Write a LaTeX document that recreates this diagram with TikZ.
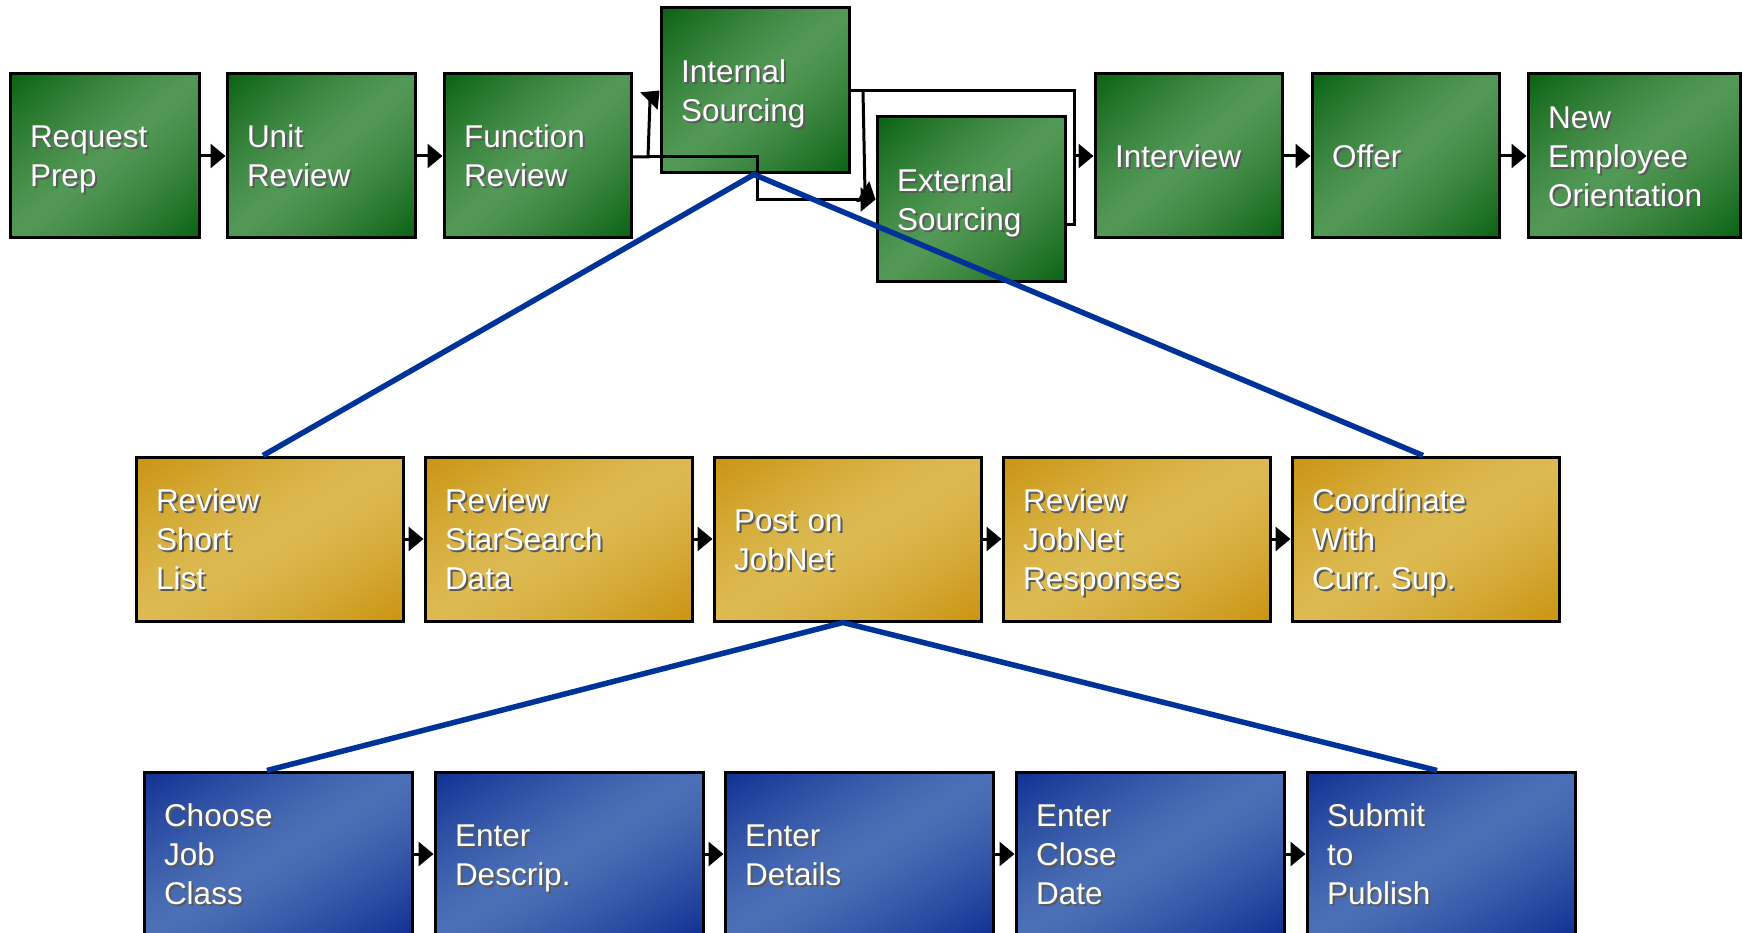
\documentclass[tikz,border=0pt]{standalone}
\usepackage{fontspec}
\setmainfont{Liberation Sans}
\usetikzlibrary{arrows.meta,calc}

\definecolor{zoomblue}{RGB}{0,51,153}

% diagonal fills: light along the rising diagonal, darkening toward the
% top-left and bottom-right corners (input x y, output r g b)
\pgfdeclarefunctionalshading{grnfill}{\pgfpointorigin}{\pgfpoint{100bp}{100bp}}{}{
  sub 50 div abs 1.3 exp
  dup dup
  -0.283 mul 0.322 add
  3 1 roll
  -0.212 mul 0.596 add
  exch
  -0.266 mul 0.337 add
}
\pgfdeclarefunctionalshading{gldfill}{\pgfpointorigin}{\pgfpoint{100bp}{100bp}}{}{
  sub 50 div abs 1.3 exp
  dup dup
  -0.071 mul 0.863 add
  3 1 roll
  -0.149 mul 0.729 add
  exch
  -0.259 mul 0.322 add
}
\pgfdeclarefunctionalshading{blufill}{\pgfpointorigin}{\pgfpoint{100bp}{100bp}}{}{
  sub 50 div abs 1.3 exp
  dup dup
  -0.235 mul 0.298 add
  3 1 roll
  -0.251 mul 0.439 add
  exch
  -0.141 mul 0.714 add
}

% line strut: 31pt above and 8pt below the baseline
\newcommand\ls{\rule[-8pt]{0pt}{39pt}}

% #1 name, #2 x, #3 y (centre), #4 width, #5 height, #6 style, #7 text
\newcommand\procbox[7]{%
  \pgfmathsetmacro\boxtw{#4-40}%
  \node[#6, minimum width=#4pt, minimum height=#5pt] (#1) at (#2,#3) {};
  \node[boxtext, text width=\boxtw pt, text=black!65] at ([shift={(2,2)}]#1.center) {#7};
  \node[boxtext, text width=\boxtw pt, text=white] at (#1.center) {#7};
}

\tikzset{
  procstep/.style={draw=black, line width=3pt, inner sep=0pt},
  greenbox/.style={procstep, shading=grnfill},
  goldbox/.style={procstep, shading=gldfill},
  bluebox/.style={procstep, shading=blufill},
  boxtext/.style={inner sep=0pt, align=left, font=\fontsize{31.5}{39}\selectfont},
  conn/.style={draw=black, line width=3pt, -{Triangle[length=15pt,width=24pt]}},
  plainconn/.style={draw=black, line width=3pt},
  zoomline/.style={draw=zoomblue, line width=5.5pt, line join=round},
}

\begin{document}
\begin{tikzpicture}[x=1pt, y=-1pt]
\useasboundingbox (0,0) rectangle (1743,933);
\clip (0,0) rectangle (1743,933);

% top level process
\procbox{rp}{104.5}{156}{189}{164}{greenbox}{\ls Request\\\ls Prep}
\procbox{ur}{321}{156}{188}{164}{greenbox}{\ls Unit\\\ls Review}
\procbox{fr}{537.5}{156}{187}{164}{greenbox}{\ls Function\\\ls Review}
\procbox{is}{755}{90.5}{188}{165}{greenbox}{\ls Internal\\\ls Sourcing}
\procbox{es}{971}{199.5}{188}{165}{greenbox}{\ls External\\\ls Sourcing}
\procbox{iv}{1188.5}{156}{187}{164}{greenbox}{\ls Interview}
\procbox{of}{1405.5}{156}{187}{164}{greenbox}{\ls Offer}
\procbox{ne}{1634}{156}{212}{164}{greenbox}{\ls New\\\ls Employee\\\ls Orientation}

% internal sourcing detail
\procbox{g1}{269.5}{539}{267}{164}{goldbox}{\ls Review\\\ls Short\\\ls List}
\procbox{g2}{558.5}{539}{267}{164}{goldbox}{\ls Review\\\ls StarSearch\\\ls Data}
\procbox{g3}{847.5}{539}{267}{164}{goldbox}{\ls Post on\\\ls JobNet}
\procbox{g4}{1136.5}{539}{267}{164}{goldbox}{\ls Review\\\ls JobNet\\\ls Responses}
\procbox{g5}{1425.5}{539}{267}{164}{goldbox}{\ls Coordinate\\\ls With\\\ls Curr.\ Sup.}

% JobNet posting detail
\procbox{b1}{278}{854}{268}{164}{bluebox}{\ls Choose\\\ls Job\\\ls Class}
\procbox{b2}{569}{854}{268}{164}{bluebox}{\ls Enter\\\ls Descrip.}
\procbox{b3}{859}{854}{268}{164}{bluebox}{\ls Enter\\\ls Details}
\procbox{b4}{1150}{854}{268}{164}{bluebox}{\ls Enter\\\ls Close\\\ls Date}
\procbox{b5}{1441}{854}{268}{164}{bluebox}{\ls Submit\\\ls to\\\ls Publish}

% top level flow
\draw[conn] (rp) -- (ur);
\draw[conn] (ur) -- (fr);
\coordinate (fj) at (648,157);
\coordinate (ij) at (863,90.5);
\coordinate (vj) at (1074,156);
\draw[conn] (fr.east |- fj) -- (fj) -- (650,100) -- (is.west);
\draw[conn] (fj) -- (757,157) -- (757,199.5) -- (es.west);
\draw[plainconn] (is.east) -- (ij) -- (1074,90.5) -- (vj);
\draw[conn] (ij) -- (865,193) -- (es.west);
\draw[plainconn] ($(es.east)+(0,25.5)$) -- (1074,225) -- (vj);
\draw[conn] (vj) -- (iv.west);
\draw[conn] (iv) -- (of);
\draw[conn] (of) -- (ne);

% second level flow
\draw[conn] (g1) -- (g2);
\draw[conn] (g2) -- (g3);
\draw[conn] (g3) -- (g4);
\draw[conn] (g4) -- (g5);

% third level flow
\draw[conn] (b1) -- (b2);
\draw[conn] (b2) -- (b3);
\draw[conn] (b3) -- (b4);
\draw[conn] (b4) -- (b5);

% expansion lines
\draw[zoomline] ([xshift=-6.5pt]g1.north) -- ([xshift=-1pt]is.south) -- ([xshift=-2.5pt]g5.north);
\draw[zoomline] ([xshift=-11pt]b1.north) -- ([xshift=-4.5pt]g3.south) -- ([xshift=-4pt]b5.north);
\end{tikzpicture}
\end{document}
